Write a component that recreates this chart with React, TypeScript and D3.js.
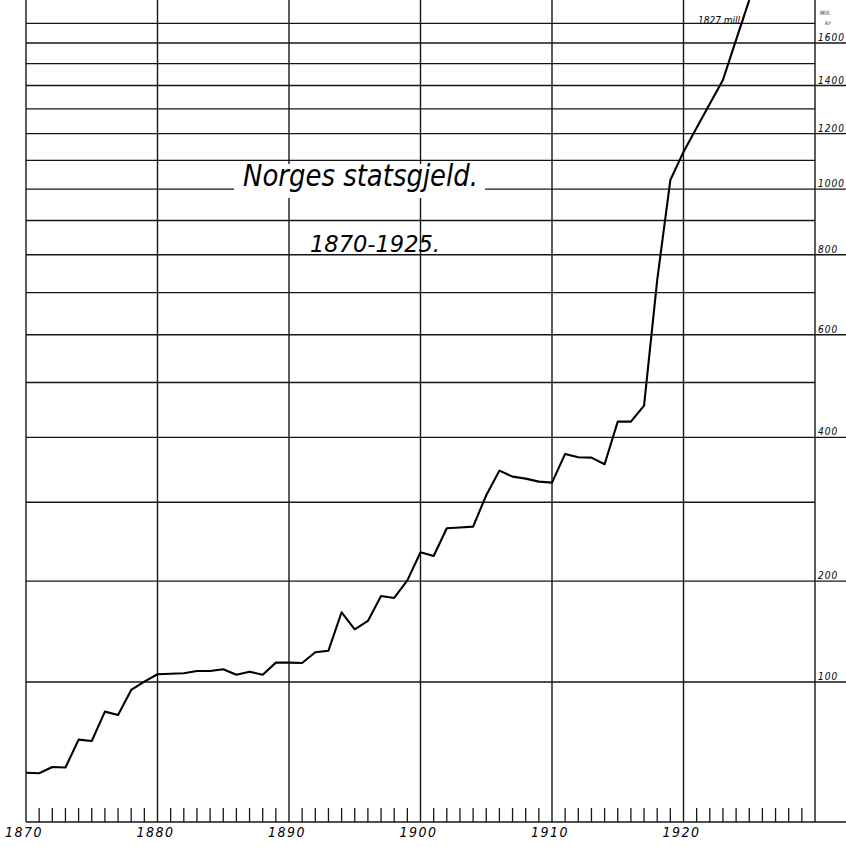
import React from 'react';
import * as d3 from 'd3';

// Norges statsgjeld 1870-1925, mill. kr
const years = [
  1870, 1871, 1872, 1873, 1874, 1875, 1876, 1877, 1878, 1879,
  1880, 1881, 1882, 1883, 1884, 1885, 1886, 1887, 1888, 1889,
  1890, 1891, 1892, 1893, 1894, 1895, 1896, 1897, 1898, 1899,
  1900, 1901, 1902, 1903, 1904, 1905, 1906, 1907, 1908, 1909,
  1910, 1911, 1912, 1913, 1914, 1915, 1916, 1917, 1918, 1919,
  1920, 1921, 1922, 1923, 1924, 1925,
];
const debt = [
  30.9, 30.5, 34.8, 34.4, 54.1, 53.1, 75.5, 72.9, 93.2, 100.3,
  106.7, 107.2, 107.6, 109.6, 109.6, 111.1, 106.3, 109.0, 106.3, 117.1,
  117.1, 116.8, 126.6, 128.1, 166.1, 148.8, 157.2, 183.5, 181.3, 200.8,
  234.1, 229.6, 264.6, 265.7, 266.7, 310.0, 346.6, 337.4, 334.4, 329.9,
  328.4, 372.9, 367.6, 367.0, 356.5, 427.3, 427.3, 456.1, 732, 1031,
  1131, 1223, 1321, 1425, 1616, 1827,
];

const gridValues = [100, 200, 300, 400, 500, 600, 700, 800, 900, 1000, 1100, 1200, 1300, 1400, 1500, 1600, 1700];
const labelValues = [100, 200, 400, 600, 800, 1000, 1200, 1400, 1600];
const decades = [1870, 1880, 1890, 1900, 1910, 1920, 1930];
const decadeLabels = [1870, 1880, 1890, 1900, 1910, 1920];
const yearTicks = [
  1871, 1872, 1873, 1874, 1875, 1876, 1877, 1878, 1879,
  1881, 1882, 1883, 1884, 1885, 1886, 1887, 1888, 1889,
  1891, 1892, 1893, 1894, 1895, 1896, 1897, 1898, 1899,
  1901, 1902, 1903, 1904, 1905, 1906, 1907, 1908, 1909,
  1911, 1912, 1913, 1914, 1915, 1916, 1917, 1918, 1919,
  1921, 1922, 1923, 1924, 1925, 1926, 1927, 1928, 1929,
];

const W = 846;
const H = 847;
const left = 26;
const right = 815;
const base = 822;
const ink = '#161616';
const hand = '"DejaVu Sans Condensed", "Liberation Sans Narrow", "DejaVu Sans", sans-serif';

export default function App() {
  const x = d3.scaleLinear().domain([1870, 1930]).range([left, right]);
  // the sheet is ruled like a shifted log: linear near 0, logarithmic higher up
  const y = d3.scaleSymlog().constant(213).domain([0, 1600]).range([base, 43]);

  const pts = years.map((yr, i) => ({ yr, v: debt[i] }));
  const line = d3.line<{ yr: number; v: number }>()
    .x(d => x(d.yr))
    .y(d => y(d.v));

  return (
    <svg width={W} height={H} style={{ position: 'absolute', left: 0, top: 0, background: '#fff' }}>
      <rect width={W} height={H} fill="#fff" />

      {/* horizontal rulings */}
      {gridValues.map(v => (
        <line key={'h' + v} x1={left} x2={labelValues.includes(v) ? W : right}
          y1={y(v)} y2={y(v)} stroke={ink} strokeWidth={1.3} />
      ))}

      {/* decade verticals */}
      {decades.map(d => (
        <line key={'d' + d} x1={x(d)} x2={x(d)} y1={0} y2={base} stroke={ink} strokeWidth={1.4} />
      ))}

      {/* yearly ticks */}
      {yearTicks.map(t => (
        <line key={'t' + t} x1={x(t)} x2={x(t)} y1={base - 14} y2={base} stroke={ink} strokeWidth={1.3} />
      ))}

      {/* base line */}
      <line x1={left} x2={W} y1={base} y2={base} stroke={ink} strokeWidth={1.6} />

      {/* blank behind title */}
      <rect x={234} y={164} width={251} height={34} fill="#fff" />

      <path d={line(pts) ?? ''} fill="none" stroke="#000" strokeWidth={2.1} strokeLinejoin="round" />

      <text x={243} y={186} fontFamily={hand} fontStyle="italic" fontSize={30}
        textLength={235} lengthAdjust="spacingAndGlyphs" fill="#000">Norges statsgjeld.</text>
      <text x={310} y={252} fontFamily={hand} fontStyle="italic" fontSize={23}
        textLength={130} lengthAdjust="spacingAndGlyphs" fill="#000">1870-1925.</text>

      {labelValues.map(v => (
        <text key={'l' + v} x={818} y={y(v) - 2} fontFamily={hand} fontStyle="italic" fontSize={10}
          letterSpacing={1} fill="#000">{v}</text>
      ))}
      <text x={820} y={15} fontFamily={hand} fontStyle="italic" fontSize={6} fill="#333">Mill.</text>
      <text x={825} y={25} fontFamily={hand} fontStyle="italic" fontSize={6} fill="#333">kr</text>

      <text x={698} y={24} fontFamily={hand} fontStyle="italic" fontSize={10}
        textLength={42} lengthAdjust="spacingAndGlyphs" fill="#000">1827 mill</text>

      {decadeLabels.map(d => (
        <text key={'x' + d} x={x(d) - 2} y={837} textAnchor="middle" fontFamily={hand} fontStyle="italic"
          fontSize={14} letterSpacing={1.5} fill="#000">{d}</text>
      ))}
    </svg>
  );
}
